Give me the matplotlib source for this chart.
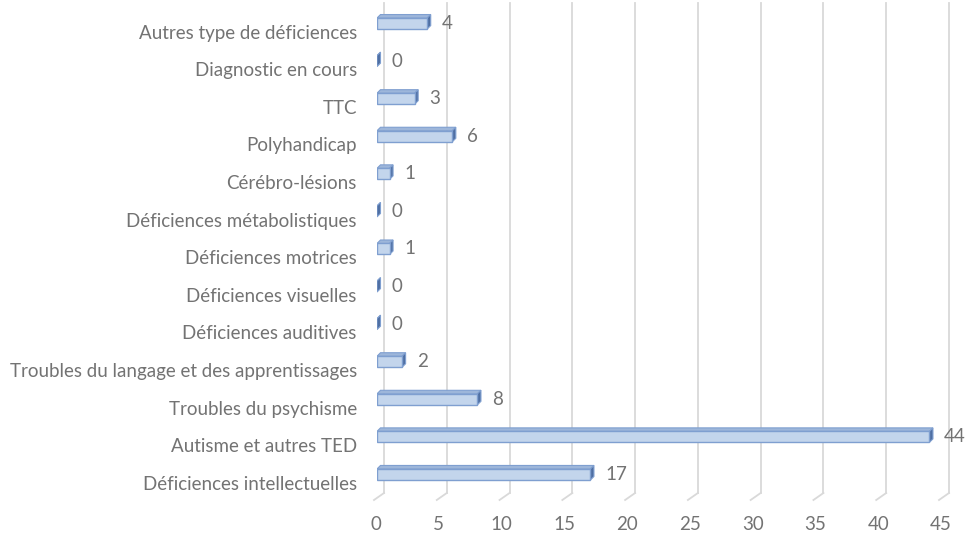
import numpy as np
import matplotlib
matplotlib.use("Agg")
import matplotlib.pyplot as plt
from matplotlib.patches import Polygon, Rectangle

# Categories listed from bottom to top, as drawn
categories = [
    "Déficiences intellectuelles",
    "Autisme et autres TED",
    "Troubles du psychisme",
    "Troubles du langage et des apprentissages",
    "Déficiences auditives",
    "Déficiences visuelles",
    "Déficiences motrices",
    "Déficiences métabolistiques",
    "Cérébro-lésions",
    "Polyhandicap",
    "TTC",
    "Diagnostic en cours",
    "Autres type de déficiences",
]
values = [17, 44, 8, 2, 0, 0, 1, 0, 1, 6, 3, 0, 4]
xticks = [0, 5, 10, 15, 20, 25, 30, 35, 40, 45]

plt.rcParams["font.family"] = ["Lato", "DejaVu Sans"]
FS = 13.5
TEXT = "#737373"
GRID = "#D9D9D9"
FRONT = "#C3D5EC"
EDGE = "#7F9FD0"
TOP = "#9DB6DA"
SIDE = "#4F6FA3"

fig = plt.figure(figsize=(9.66, 5.36), dpi=100)
ax = fig.add_axes([377 / 966, 39 / 536, 565 / 966, 492.25 / 536])
xmin, xmax = 0, 45
ymin, ymax = -0.6, 12.5
ax.set_xlim(xmin, xmax)
ax.set_ylim(ymin, ymax)
ax.axis("off")

# size of one pixel in data units
px = (xmax - xmin) / 565
py = (ymax - ymin) / 492.25

# back-wall gridlines with the little perspective foot
for t in xticks:
    xb = t + 7 * px
    ax.plot([xb, xb], [ymin + 4 * py, ymax + 2 * py], color=GRID, lw=1.3,
            clip_on=False, zorder=1)
    ax.plot([xb, t - 3 * px], [ymin + 4 * py, ymin - 3 * py], color=GRID,
            lw=1.3, clip_on=False, zorder=1)
    ax.annotate(str(t), (t - 1 * px, ymin), xytext=(0, -20),
                textcoords="offset points", ha="center", va="center",
                fontsize=FS, color=TEXT, annotation_clip=False)

h = 11 * py
dx, dy = 3.5 * px, 3.5 * py
for i, (lab, v) in enumerate(zip(categories, values)):
    y0, y1 = i - h / 2, i + h / 2
    # top face
    ax.add_patch(Polygon([(0, y1), (v, y1), (v + dx, y1 + dy), (dx, y1 + dy)],
                         closed=True, facecolor=TOP, edgecolor=EDGE, lw=0.8,
                         zorder=3))
    # right face
    ax.add_patch(Polygon([(v, y0), (v + dx, y0 + dy), (v + dx, y1 + dy),
                          (v, y1)], closed=True, facecolor=SIDE,
                         edgecolor=EDGE, lw=0.8, zorder=3))
    # front face
    if v > 0:
        ax.add_patch(Rectangle((0, y0), v, h, facecolor=FRONT,
                               edgecolor=EDGE, lw=1.0, zorder=4))
    ax.annotate(str(v), (v, i), xytext=(10.5, 0), textcoords="offset points",
                ha="left", va="center", fontsize=FS, color=TEXT,
                annotation_clip=False)
    ax.annotate(lab, (0, i), xytext=(-14.5, -7), textcoords="offset points",
                ha="right", va="center", fontsize=FS, color=TEXT,
                annotation_clip=False)

fig.savefig("out.png", dpi=100)
